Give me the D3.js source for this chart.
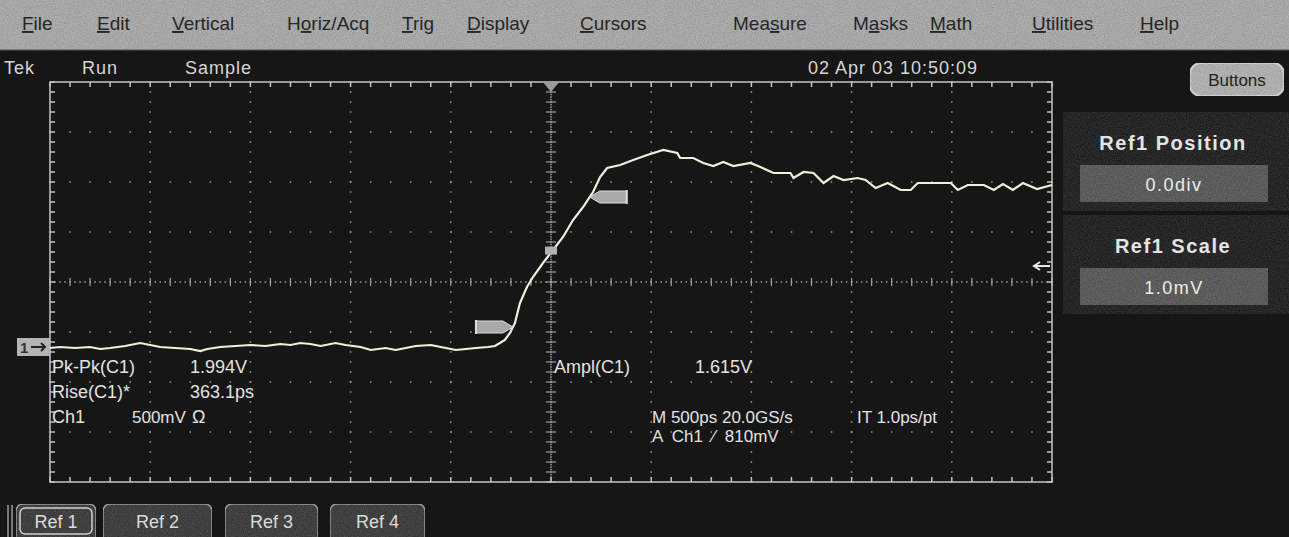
<!DOCTYPE html>
<html>
<head>
<meta charset="utf-8">
<script src="https://cdn.jsdelivr.net/npm/d3@7/dist/d3.min.js"></script>
<style>
  body { margin: 0; background: #151515; }
  svg { display: block; }
  text { font-family: "Liberation Sans", Arial, sans-serif; white-space: pre; }
</style>
</head>
<body>
<div id="scope"></div>
<script>
// Waveform samples (time in ps, level in V)
var timePs = [-2500, -2450, -2375, -2300, -2250, -2200, -2125, -2075, -2050, -2000,
    -1950, -1875, -1800, -1750, -1715, -1650, -1575, -1500, -1425, -1350,
    -1300, -1250, -1200, -1150, -1075, -1025, -950, -900, -825, -775,
    -725, -675, -600, -550, -475, -425, -375, -315, -280, -255,
    -230, -205, -180, -155, -120, -90, -40, 10, 60, 110,
    160, 210, 245, 280, 345, 410, 480, 560, 630, 645,
    710, 760, 810, 860, 910, 995, 1045, 1110, 1195, 1210,
    1260, 1310, 1360, 1410, 1460, 1530, 1570, 1620, 1680, 1745,
    1795, 1830, 1930, 1995, 2030, 2080, 2160, 2210, 2255, 2305,
    2355, 2425, 2500];
var volts = [-0.01, 0, -0.01, 0, -0.02, -0.01, 0.01, 0.03, 0.04, 0.02,
    0, -0.01, -0.02, -0.04, -0.02, 0, 0.01, 0.02, 0.01, 0.03,
    0.02, 0.04, 0.03, 0.01, 0.04, 0.02, 0, -0.03, -0.01, -0.03,
    -0.01, 0.01, 0.02, 0, -0.03, -0.02, -0.01, 0, 0.01, 0.04,
    0.07, 0.14, 0.24, 0.44, 0.60, 0.70, 0.84, 0.97, 1.10, 1.27,
    1.40, 1.55, 1.70, 1.79, 1.82, 1.87, 1.92, 1.97, 1.94, 1.89,
    1.89, 1.84, 1.81, 1.85, 1.81, 1.84, 1.80, 1.74, 1.74, 1.69,
    1.75, 1.74, 1.64, 1.71, 1.67, 1.69, 1.67, 1.59, 1.64, 1.57,
    1.57, 1.64, 1.64, 1.64, 1.57, 1.62, 1.62, 1.57, 1.63, 1.57,
    1.64, 1.58, 1.62];

// Scope settings
var timePerDiv = 500,      // ps
    voltsPerDiv = 0.5,     // V
    centerVolts = 0.65,    // level at the middle graticule line
    trigLevel = 0.81,      // V
    refLevels = [0.2, 1.5];

// Screen texts
var menuItems = ["File", "Edit", "Vertical", "Horiz/Acq", "Trig", "Display",
    "Cursors", "Measure", "Masks", "Math", "Utilities", "Help"];
var menuKeys = [0, 0, 0, 1, 0, 0, 0, 3, 1, 0, 0, 0];
var statusItems = ["Tek", "Run", "Sample", "02 Apr 03 10:50:09"];
var measLeft = [["Pk-Pk(C1)", "1.994V"], ["Rise(C1)*", "363.1ps"], ["Ch1", "500mV", "Ω"]];
var measRight = [["Ampl(C1)", "1.615V"]];
var horizInfo = [["M 500ps 20.0GS/s", "IT 1.0ps/pt"], ["A  Ch1  \u2044  810mV"]];
var panelLabels = ["Ref1 Position", "Ref1 Scale"];
var panelValues = ["0.0div", "1.0mV"];
var tabs = ["Ref 1", "Ref 2", "Ref 3", "Ref 4"];

// Layout
var W = 1289, H = 537;
var grat = {left: 50, right: 1052, top: 82, bottom: 482};
var menuX = [22, 97, 172, 287, 402, 467, 580, 733, 853, 930, 1032, 1140];
var statusX = [4, 82, 185, 808];
var tabX = [[16, 96], [103, 212], [225, 318], [330, 425]];

var trace = timePs.map(function(t, i) { return {t: t, v: volts[i]}; });

var svg = d3.select("#scope").append("svg")
    .attr("width", W)
    .attr("height", H);

// grain filter for the grey widgets, kept inside each shape
var defs = svg.append("defs");
var grain = defs.append("filter")
    .attr("id", "grain")
    .attr("x", 0).attr("y", 0)
    .attr("width", 1).attr("height", 1)
    .attr("color-interpolation-filters", "sRGB");
grain.append("feTurbulence")
    .attr("type", "fractalNoise")
    .attr("baseFrequency", 0.9)
    .attr("numOctaves", 2)
    .attr("result", "n");
grain.append("feColorMatrix")
    .attr("in", "n")
    .attr("type", "matrix")
    .attr("values", "1 0 0 0 0  1 0 0 0 0  1 0 0 0 0  0 0 0 0 0.18")
    .attr("result", "g");
grain.append("feComposite")
    .attr("in", "g")
    .attr("in2", "SourceGraphic")
    .attr("operator", "in")
    .attr("result", "gc");
var merge = grain.append("feMerge");
merge.append("feMergeNode").attr("in", "SourceGraphic");
merge.append("feMergeNode").attr("in", "gc");

svg.append("rect")
    .attr("width", W)
    .attr("height", H)
    .attr("fill", "#161616");

// menu bar
svg.append("rect")
    .attr("width", W)
    .attr("height", 50)
    .attr("fill", "#b0b0b0")
    .attr("filter", "url(#grain)");
svg.append("line")
    .attr("x1", 0).attr("x2", W)
    .attr("y1", 50).attr("y2", 50)
    .attr("stroke", "#555");

var menu = svg.append("g").selectAll("text")
    .data(menuItems)
    .enter()
    .append("text")
    .attr("x", function(d, i) { return menuX[i]; })
    .attr("y", 30)
    .attr("fill", "#262626")
    .style("font-size", "19px");
menu.each(function(d, i) {
    var k = menuKeys[i], t = d3.select(this);
    if (k > 0) t.append("tspan").text(d.slice(0, k));
    t.append("tspan").style("text-decoration", "underline").text(d.charAt(k));
    t.append("tspan").text(d.slice(k + 1));
});

// status line
svg.append("g").selectAll("text")
    .data(statusItems)
    .enter()
    .append("text")
    .attr("x", function(d, i) { return statusX[i]; })
    .attr("y", 74)
    .attr("fill", "#d6d6d6")
    .style("font-size", "18px")
    .style("letter-spacing", "1px")
    .text(function(d) { return d; });

// Buttons button
svg.append("rect")
    .attr("x", 1190).attr("y", 63)
    .attr("width", 94).attr("height", 33)
    .attr("rx", 11)
    .attr("fill", "#b8b8b8")
    .attr("stroke", "#dedede")
    .attr("stroke-width", 2)
    .attr("filter", "url(#grain)");
svg.append("text")
    .attr("x", 1237).attr("y", 86)
    .attr("text-anchor", "middle")
    .attr("fill", "#222")
    .style("font-size", "17px")
    .text("Buttons");

// side panel
var panel = svg.append("g").selectAll("g")
    .data(panelLabels)
    .enter()
    .append("g")
    .attr("transform", function(d, i) { return "translate(1063," + (112 + i * 103) + ")"; });
panel.append("rect")
    .attr("width", 226).attr("height", 99)
    .attr("fill", "#141414")
    .attr("filter", "url(#grain)");
panel.append("text")
    .attr("x", 110).attr("y", 38)
    .attr("text-anchor", "middle")
    .attr("fill", "#e4e4e4")
    .style("font-size", "20px")
    .style("font-weight", "bold")
    .style("letter-spacing", "1.5px")
    .text(function(d) { return d; });
panel.append("rect")
    .attr("x", 17).attr("y", 53)
    .attr("width", 188).attr("height", 37)
    .attr("fill", "#555")
    .attr("filter", "url(#grain)");
panel.append("text")
    .attr("x", 111).attr("y", 79)
    .attr("text-anchor", "middle")
    .attr("fill", "#ececec")
    .style("font-size", "18px")
    .style("letter-spacing", "1.5px")
    .text(function(d, i) { return panelValues[i]; });

// scales
var x = d3.scaleLinear()
    .domain([-5 * timePerDiv, 5 * timePerDiv])
    .range([grat.left, grat.right]);
var y = d3.scaleLinear()
    .domain([centerVolts - 4 * voltsPerDiv, centerVolts + 4 * voltsPerDiv])
    .range([grat.bottom, grat.top]);

// graticule
var g = svg.append("g").attr("fill", "#a0a0a0");
var divT = d3.range(-4, 5).map(function(k) { return k * timePerDiv; });
var divV = d3.range(-3, 4).map(function(k) { return centerVolts + k * voltsPerDiv; });
var subT = d3.range(-25, 26).map(function(k) { return k * timePerDiv / 5; });
var subV = d3.range(-20, 21).map(function(k) { return centerVolts + k * voltsPerDiv / 5; });

divT.forEach(function(t) {
    if (t === 0) return;
    g.selectAll(null).data(subV).enter().append("rect")
        .attr("x", x(t) - 0.75).attr("y", function(v) { return y(v) - 0.75; })
        .attr("width", 1.5).attr("height", 1.5);
});
divV.forEach(function(v) {
    if (Math.abs(v - centerVolts) < 1e-6) return;
    g.selectAll(null).data(subT).enter().append("rect")
        .attr("x", function(t) { return x(t) - 0.75; }).attr("y", y(v) - 0.75)
        .attr("width", 1.5).attr("height", 1.5);
});

// center cross with fine ticks
var fineV = d3.range(-80, 81).map(function(k) { return centerVolts + k * voltsPerDiv / 20; });
var fineT = d3.range(-100, 101).map(function(k) { return k * timePerDiv / 20; });
g.selectAll(null).data(fineV).enter().append("rect")
    .attr("x", x(0) - 0.75).attr("y", function(v) { return y(v) - 0.75; })
    .attr("width", 1.5).attr("height", 1.5);
g.selectAll(null).data(subV).enter().append("rect")
    .attr("x", x(0) - 5).attr("y", function(v) { return y(v) - 0.6; })
    .attr("width", 10).attr("height", 1.2);
g.selectAll(null).data(fineT).enter().append("rect")
    .attr("x", function(t) { return x(t) - 0.75; }).attr("y", y(centerVolts) - 0.75)
    .attr("width", 1.5).attr("height", 1.5);
g.selectAll(null).data(subT).enter().append("rect")
    .attr("x", function(t) { return x(t) - 0.6; }).attr("y", y(centerVolts) - 4)
    .attr("width", 1.2).attr("height", 8);

// border with inward ticks
var border = svg.append("g").attr("stroke", "#c4c4c4").attr("stroke-width", 1.5);
border.append("rect")
    .attr("x", grat.left).attr("y", grat.top)
    .attr("width", grat.right - grat.left).attr("height", grat.bottom - grat.top)
    .attr("fill", "none");
border.selectAll(null).data(subT).enter().append("path")
    .attr("d", function(t) {
        return "M" + x(t) + "," + grat.top + "v5M" + x(t) + "," + grat.bottom + "v-5";
    });
border.selectAll(null).data(subV).enter().append("path")
    .attr("d", function(v) {
        return "M" + grat.left + "," + y(v) + "h5M" + grat.right + "," + y(v) + "h-5";
    });

// level helpers
function levelAt(t0) {
    var i = d3.bisector(function(d) { return d.t; }).left(trace, t0);
    var a = trace[i - 1], b = trace[i];
    return a.v + (b.v - a.v) * (t0 - a.t) / (b.t - a.t);
}
function crossing(level) {
    for (var i = 1; i < trace.length; i++) {
        var a = trace[i - 1], b = trace[i];
        if (a.v < level && b.v >= level) return a.t + (b.t - a.t) * (level - a.v) / (b.v - a.v);
    }
    return 0;
}

// trigger position marker on top
svg.append("path")
    .attr("d", "M" + (x(0) - 9) + "," + (grat.top - 1) + "h18l-9,11z")
    .attr("fill", "#9a9a9a");

// trigger level arrow at right
var ty = y(trigLevel);
svg.append("path")
    .attr("d", "M" + (grat.right - 2) + "," + ty + "H" + (grat.right - 18) +
        "M" + (grat.right - 12) + "," + (ty - 4) + "L" + (grat.right - 18) + "," + ty +
        "L" + (grat.right - 12) + "," + (ty + 4))
    .attr("stroke", "#e6e6e6")
    .attr("stroke-width", 2)
    .attr("fill", "none");

// ground marker on the left
var gy = y(0);
svg.append("rect")
    .attr("x", 17).attr("y", gy - 9)
    .attr("width", 33).attr("height", 18)
    .attr("fill", "#b4b4b4");
svg.append("text")
    .attr("x", 20).attr("y", gy + 6)
    .attr("fill", "#333")
    .style("font-size", "15px")
    .style("font-weight", "bold")
    .text("1");
svg.append("path")
    .attr("d", "M31," + gy + "h14M41," + (gy - 4) + "l4,4l-4,4")
    .attr("stroke", "#222")
    .attr("stroke-width", 2)
    .attr("fill", "none");

// waveform
svg.append("path")
    .datum(trace)
    .attr("d", d3.line()
        .x(function(d) { return x(d.t); })
        .y(function(d) { return y(d.v); }))
    .attr("stroke", "#f2eedc")
    .attr("stroke-width", 2.2)
    .attr("fill", "none");

// rise measurement markers
refLevels.forEach(function(lv, i) {
    var cx = x(crossing(lv)), cy = y(lv), dir = i === 0 ? -1 : 1;
    var tip = cx, base = cx + dir * 10, end = cx + dir * 37;
    svg.append("path")
        .attr("d", "M" + tip + "," + cy + "L" + base + "," + (cy - 6) + "H" + end +
            "V" + (cy + 6) + "H" + base + "Z")
        .attr("fill", "#a9a9a9")
        .attr("stroke", "#dcdcdc")
        .attr("stroke-width", 1);
    svg.append("line")
        .attr("x1", end).attr("x2", end)
        .attr("y1", cy - 7).attr("y2", cy + 7)
        .attr("stroke", "#dcdcdc")
        .attr("stroke-width", 2);
});

// trigger point marker on the trace
var tv = y(levelAt(0));
svg.append("rect")
    .attr("x", x(0) - 6).attr("y", tv - 6)
    .attr("width", 12).attr("height", 8)
    .attr("fill", "#b0b0b0");

// measurement readouts
var readout = svg.append("g")
    .attr("fill", "#e2e2e2")
    .style("font-size", "18px");
var leftCols = [52, 190, 192];
measLeft.forEach(function(row, r) {
    row.forEach(function(s, c) {
        readout.append("text")
            .attr("x", r === 2 && c === 1 ? 132 : leftCols[c])
            .attr("y", 373 + r * 25)
            .style("font-size", r === 2 && c === 1 ? "17px" : null)
            .text(s);
    });
});
measRight.forEach(function(row, r) {
    row.forEach(function(s, c) {
        readout.append("text")
            .attr("x", [554, 695][c])
            .attr("y", 373 + r * 25)
            .text(s);
    });
});
horizInfo.forEach(function(row, r) {
    row.forEach(function(s, c) {
        readout.append("text")
            .attr("x", [652, 857][c])
            .attr("y", 423 + r * 19)
            .style("font-size", "17px")
            .text(s);
    });
});

// bottom tabs
svg.append("path")
    .attr("d", "M8,505V537M12,505V537")
    .attr("stroke", "#9a9a9a")
    .attr("stroke-width", 1.5);
var tab = svg.append("g").selectAll("g")
    .data(tabs)
    .enter()
    .append("g");
tab.append("path")
    .attr("d", function(d, i) {
        var a = tabX[i][0], b = tabX[i][1];
        return "M" + a + ",540V512Q" + a + ",504 " + (a + 8) + ",504H" + (b - 8) +
            "Q" + b + ",504 " + b + ",512V540";
    })
    .attr("fill", "#333")
    .attr("stroke", "#a0a0a0")
    .attr("stroke-width", 1.5)
    .attr("filter", "url(#grain)");
tab.filter(function(d, i) { return i === 0; })
    .append("rect")
    .attr("x", tabX[0][0] + 4).attr("y", 508)
    .attr("width", tabX[0][1] - tabX[0][0] - 8).attr("height", 26)
    .attr("rx", 5)
    .attr("fill", "none")
    .attr("stroke", "#d0d0d0")
    .attr("stroke-width", 1.5);
tab.append("text")
    .attr("x", function(d, i) { return (tabX[i][0] + tabX[i][1]) / 2; })
    .attr("y", 528)
    .attr("text-anchor", "middle")
    .attr("fill", "#dcdcdc")
    .style("font-size", "18px")
    .text(function(d) { return d; });
</script>
</body>
</html>
